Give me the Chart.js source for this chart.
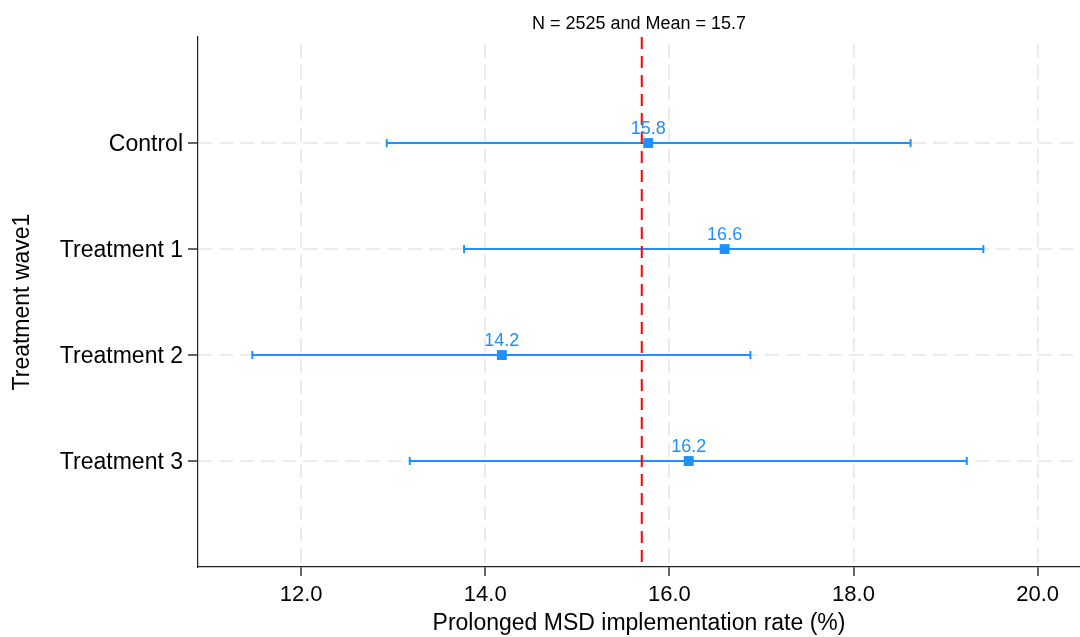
<!DOCTYPE html>
<html>
<head>
<meta charset="utf-8">
<script src="https://cdn.jsdelivr.net/npm/chart.js@4/dist/chart.umd.min.js"></script>
<style>
  html, body { margin: 0; padding: 0; background: #fff; }
  #wrap { width: 1080px; height: 637px; position: relative; }
</style>
</head>
<body>
<div id="wrap"><canvas id="chart"></canvas></div>
<script>
const groups = ['Control', 'Treatment 1', 'Treatment 2', 'Treatment 3'];
const means = [15.77, 16.60, 14.18, 16.21];
const lower = [12.93, 13.77, 11.47, 13.18];
const upper = [18.62, 19.41, 16.88, 19.23];
const meanLabels = ['15.8', '16.6', '14.2', '16.2'];
const overallMean = 15.7;
const xTicks = [12, 14, 16, 18, 20];

const blue = '#1E90FF';
const gridGray = '#ebebeb';
const fontFamily = '"Liberation Sans", Arial, Helvetica, sans-serif';

// one line per group for the interval, caps drawn as rotated 'line' points
const ciSets = groups.map((g, i) => ({
    type: 'line',
    label: g,
    data: [{ x: lower[i], y: i + 1 }, { x: upper[i], y: i + 1 }],
    borderColor: blue,
    borderWidth: 2,
    pointStyle: 'line',
    rotation: 90,
    pointRadius: 4,
    pointBorderWidth: 2,
    pointBorderColor: blue,
    pointHoverRadius: 4,
    order: 2
}));

const meanLabelPlugin = {
    id: 'meanLabels',
    afterDatasetsDraw(chart) {
        const ctx = chart.ctx;
        const meta = chart.getDatasetMeta(chart.data.datasets.length - 1);
        ctx.save();
        ctx.fillStyle = blue;
        ctx.font = '18px ' + fontFamily;
        ctx.textAlign = 'center';
        ctx.textBaseline = 'alphabetic';
        meta.data.forEach((pt, i) => {
            ctx.fillText(meanLabels[i], pt.x, pt.y - 9.5);
        });
        ctx.restore();
    }
};

new Chart(document.getElementById('chart').getContext('2d'), {
    type: 'scatter',
    data: {
        datasets: [
            ...ciSets,
            {
                type: 'line',
                label: 'Mean',
                data: [{ x: overallMean, y: 0 }, { x: overallMean, y: 5 }],
                borderColor: '#ff0000',
                borderWidth: 2,
                borderDash: [12, 7],
                pointRadius: 0,
                order: 1
            },
            {
                label: 'Estimate',
                data: means.map((m, i) => ({ x: m, y: i + 1 })),
                backgroundColor: blue,
                borderWidth: 0,
                pointStyle: 'rect',
                pointRadius: 7,
                pointHoverRadius: 7,
                order: 0
            }
        ]
    },
    options: {
        responsive: true,
        maintainAspectRatio: false,
        animation: false,
        layout: { padding: 0, autoPadding: false },
        plugins: {
            legend: { display: false },
            tooltip: { enabled: false },
            title: {
                display: true,
                text: 'N = 2525 and Mean = 15.7',
                color: '#000',
                fullSize: false,
                font: { family: fontFamily, size: 18, weight: 'normal' },
                padding: { top: 13, bottom: 2.5 }
            }
        },
        scales: {
            x: {
                type: 'linear',
                min: 10.88,
                max: 20.46,
                afterBuildTicks: (scale) => { scale.ticks = xTicks.map(v => ({ value: v })); },
                afterFit: (scale) => { scale.height = 70; },
                ticks: {
                    color: '#000',
                    padding: 6,
                    font: { family: fontFamily, size: 22 },
                    callback: (v) => Number(v).toFixed(1)
                },
                grid: {
                    color: gridGray,
                    lineWidth: 2,
                    tickColor: '#000',
                    tickLength: 9,
                    tickWidth: 1.2
                },
                border: { color: '#222', width: 1.2, dash: [14, 7], dashOffset: 14 },
                title: {
                    display: true,
                    text: 'Prolonged MSD implementation rate (%)',
                    color: '#000',
                    font: { family: fontFamily, size: 23 },
                    padding: { top: 0, bottom: 0 }
                }
            },
            y: {
                type: 'linear',
                reverse: true,
                min: 0,
                max: 5,
                afterBuildTicks: (scale) => { scale.ticks = groups.map((g, i) => ({ value: i + 1 })); },
                afterFit: (scale) => { scale.width = 198; },
                ticks: {
                    color: '#000',
                    padding: 5,
                    labelOffset: 2,
                    font: { family: fontFamily, size: 23 },
                    callback: (v) => groups[v - 1] || ''
                },
                grid: {
                    color: gridGray,
                    lineWidth: 2,
                    tickColor: '#000',
                    tickLength: 10,
                    tickWidth: 1.2
                },
                border: { color: '#222', width: 1.2, dash: [14, 7] },
                title: {
                    display: true,
                    text: 'Treatment wave1',
                    color: '#000',
                    font: { family: fontFamily, size: 23 },
                    padding: { top: 9, bottom: 0 }
                }
            }
        }
    },
    plugins: [meanLabelPlugin]
});
</script>
</body>
</html>
